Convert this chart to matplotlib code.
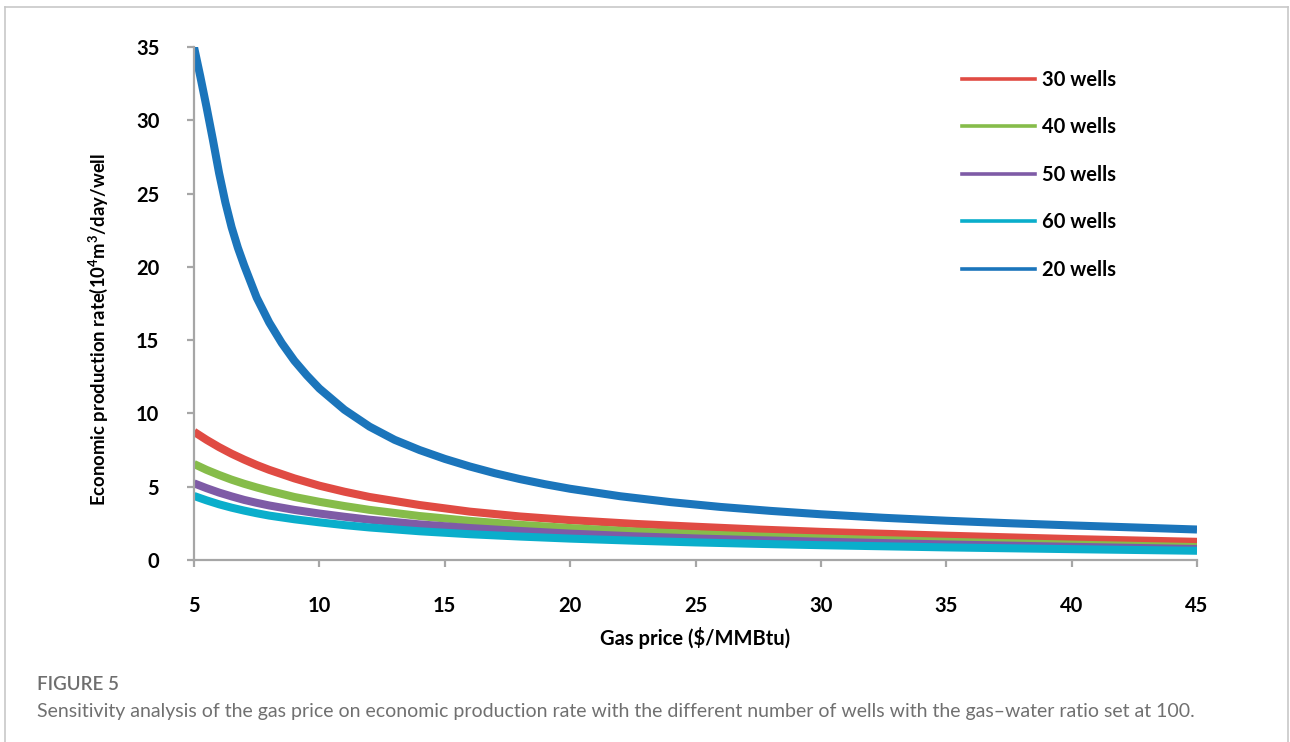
import matplotlib
matplotlib.use("Agg")
import matplotlib.pyplot as plt
from matplotlib.lines import Line2D

plt.rcParams['font.family'] = ['Lato', 'DejaVu Sans']
plt.rcParams['mathtext.fontset'] = 'custom'
plt.rcParams['mathtext.rm'] = 'Lato:bold'
plt.rcParams['mathtext.bf'] = 'Lato:bold'

# gas price ($/MMBtu) and economic production rate
price_20 = [5, 5.25, 5.5, 5.75, 6, 6.25, 6.5, 6.75, 7, 7.5, 8, 8.5, 9, 9.5, 10,
            11, 12, 13, 14, 15, 16, 17, 18, 19, 20, 22, 24, 26, 28, 30,
            32.5, 35, 37.5, 40, 42.5, 45]
wells_20 = [35.0, 33.0, 30.9, 28.7, 26.4, 24.4, 22.7, 21.3, 20.1, 17.9, 16.2,
            14.8, 13.6, 12.6, 11.7, 10.25, 9.1, 8.2, 7.5, 6.9, 6.38, 5.92, 5.52,
            5.17, 4.86, 4.35, 3.95, 3.62, 3.35, 3.12, 2.88, 2.68, 2.51, 2.36,
            2.22, 2.08]

price = [5, 5.5, 6, 6.5, 7, 7.5, 8, 9, 10, 11, 12, 14, 16, 18, 20, 22.5, 25,
         27.5, 30, 35, 40, 45]
wells_30 = [8.75, 8.2, 7.7, 7.25, 6.85, 6.48, 6.15, 5.57, 5.07, 4.66, 4.3,
            3.75, 3.3, 2.97, 2.72, 2.47, 2.27, 2.08, 1.92, 1.66, 1.43, 1.24]
wells_40 = [6.55, 6.15, 5.8, 5.48, 5.2, 4.95, 4.72, 4.3, 3.97, 3.68, 3.42,
            3.0, 2.67, 2.4, 2.18, 1.95, 1.76, 1.6, 1.47, 1.24, 1.05, 0.88]
wells_50 = [5.23, 4.9, 4.6, 4.34, 4.1, 3.9, 3.72, 3.42, 3.17, 2.95, 2.75,
            2.43, 2.18, 1.98, 1.8, 1.62, 1.47, 1.35, 1.25, 1.06, 0.9, 0.75]
wells_60 = [4.37, 4.07, 3.8, 3.57, 3.37, 3.19, 3.03, 2.78, 2.57, 2.38, 2.22,
            1.96, 1.76, 1.6, 1.46, 1.32, 1.2, 1.1, 1.01, 0.86, 0.74, 0.63]

labels = ['30 wells', '40 wells', '50 wells', '60 wells', '20 wells']
colors = ['#E04B43', '#86BC4A', '#7E5BA6', '#0AAECB', '#1B75BB']
x_ticks = [5, 10, 15, 20, 25, 30, 35, 40, 45]
y_ticks = [0, 5, 10, 15, 20, 25, 30, 35]

fig = plt.figure(figsize=(12.9, 7.42), dpi=100)
ax = fig.add_axes([194 / 1290, 1 - 560 / 742, (1197 - 194) / 1290, (560 - 47) / 742])

series = [(price, wells_30), (price, wells_40), (price, wells_50),
          (price, wells_60), (price_20, wells_20)]
for (xs, ys), c in zip(series, colors):
    ax.plot(xs, ys, color=c, lw=5.8, solid_capstyle='butt', solid_joinstyle='round')

ax.set_xlim(5, 45)
ax.set_ylim(0, 35)
ax.set_xticks(x_ticks)
ax.set_yticks(y_ticks)
for s in ['top', 'right']:
    ax.spines[s].set_visible(False)
for s in ['left', 'bottom']:
    ax.spines[s].set_color('#A6A6A6')
    ax.spines[s].set_linewidth(1.6)
ax.tick_params(axis='both', direction='out', length=5, width=1.6, color='#A6A6A6',
               labelsize=14.5)
ax.tick_params(axis='x', pad=21)
ax.tick_params(axis='y', pad=20)
for lab in ax.get_xticklabels() + ax.get_yticklabels():
    lab.set_fontweight('bold')

ax.set_xlabel('Gas price ($/MMBtu)', fontsize=14.5, fontweight='bold', labelpad=8)
fig.text(98 / 1290, 1 - 329 / 742, 'Economic production rate(10$^{4}$m$^{3}$/day/well',
         fontsize=13.3, fontweight='bold', rotation=90, ha='center', va='center')

handles = [Line2D([], [], color=c, lw=2.6) for c in colors]
fig.legend(handles, labels, loc='upper left', bbox_to_anchor=(962 / 1290, 1 - 70 / 742),
           bbox_transform=fig.transFigure, frameon=False, borderpad=0, borderaxespad=0,
           handlelength=3.6, handletextpad=0.35, labelspacing=1.36,
           prop={'size': 14.5, 'weight': 'bold'})

# outer frame of the figure panel
fig.add_artist(Line2D([5 / 1290, 5 / 1290], [0, 1 - 7 / 742], color='#C8C8C8', lw=1.2))
fig.add_artist(Line2D([5 / 1290, 1288 / 1290], [1 - 7 / 742, 1 - 7 / 742], color='#C8C8C8', lw=1.2))
fig.add_artist(Line2D([1288 / 1290, 1288 / 1290], [0, 1 - 7 / 742], color='#C8C8C8', lw=1.2))

fig.text(37 / 1290, 1 - 685 / 742, 'FIGURE 5', fontsize=13.5, fontweight='semibold',
         color='#6E6E6E', va='center', ha='left')
fig.text(37 / 1290, 1 - 712 / 742,
         'Sensitivity analysis of the gas price on economic production rate with the different '
         'number of wells with the gas\u2013water ratio set at 100.',
         fontsize=14, color='#707070', va='center', ha='left')

fig.savefig('out.png', dpi=100)
